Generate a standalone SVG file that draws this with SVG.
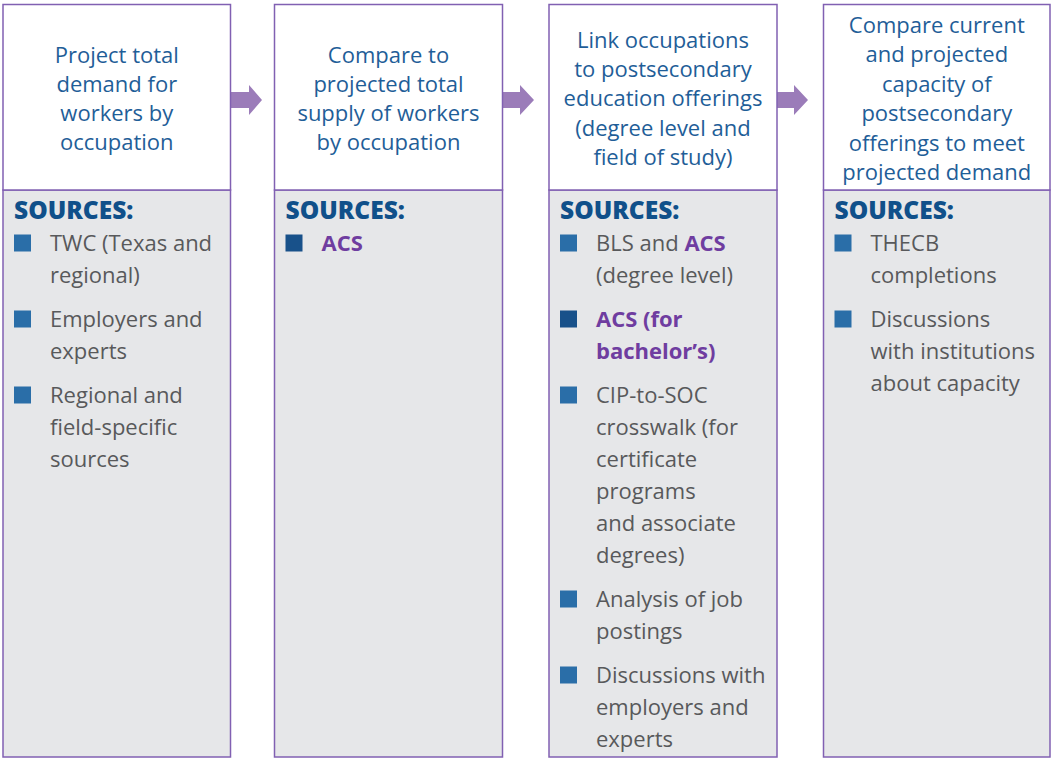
<svg xmlns="http://www.w3.org/2000/svg" width="1052" height="759" viewBox="0 0 1052 759">
<defs>
<style>
.top{fill:#ffffff;stroke:#8160b2;stroke-width:1.5}
.bot{fill:#e6e7e9;stroke:#8160b2;stroke-width:1.5}
.ttl{font-family:"Open Sans","Liberation Sans",sans-serif;font-size:22px;fill:#1f5e98;text-anchor:middle}
.src{font-family:"Open Sans","Liberation Sans",sans-serif;font-size:24.5px;font-weight:800;fill:#10508a}
.itm{font-family:"Open Sans","Liberation Sans",sans-serif;font-size:22px;fill:#58595b}
.acs{font-weight:700;fill:#6f3da0}
.bul{fill:#2a6ea8}
.bul2{fill:#18518a}
.arr{fill:#9b7cb9}
</style>
</defs>
<rect width="1052" height="759" fill="#ffffff"/>

<g id="connectors">
<polygon class="arr" points="231,92 249,92 249,85 262,100 249,115 249,108 231,108"/>
<polygon class="arr" points="503,92 520,92 520,85 534,100 520,115 520,108 503,108"/>
<polygon class="arr" points="777,92 794,92 794,85 808,100 794,115 794,108 777,108"/>
</g>

<g id="node1">
<rect class="bot" x="3" y="190" width="227.5" height="567"/>
<rect class="top" x="3" y="4.5" width="227.5" height="185.5"/>
<text class="ttl"><tspan x="116.8" y="63">Project total</tspan><tspan x="116.8" y="92">demand for</tspan><tspan x="116.8" y="121">workers by</tspan><tspan x="116.8" y="150">occupation</tspan></text>
<text class="src" x="14" y="218.5">SOURCES:</text>
<rect class="bul" x="14" y="234.5" width="17" height="17"/>
<text class="itm"><tspan x="50" y="251">TWC (Texas and</tspan><tspan x="50" y="283">regional)</tspan></text>
<rect class="bul" x="14" y="310.5" width="17" height="17"/>
<text class="itm"><tspan x="50" y="327">Employers and</tspan><tspan x="50" y="359">experts</tspan></text>
<rect class="bul" x="14" y="386.5" width="17" height="17"/>
<text class="itm"><tspan x="50" y="403">Regional and</tspan><tspan x="50" y="435">field-specific</tspan><tspan x="50" y="467">sources</tspan></text>
</g>

<g id="node2">
<rect class="bot" x="274.5" y="190" width="228" height="567"/>
<rect class="top" x="274.5" y="4.5" width="228" height="185.5"/>
<text class="ttl"><tspan x="388.5" y="63">Compare to</tspan><tspan x="388.5" y="92">projected total</tspan><tspan x="388.5" y="121">supply of workers</tspan><tspan x="388.5" y="150">by occupation</tspan></text>
<text class="src" x="285.5" y="218.5">SOURCES:</text>
<rect class="bul2" x="285.5" y="234.5" width="17" height="17"/>
<text class="itm acs" x="321.5" y="251">ACS</text>
</g>

<g id="node3">
<rect class="bot" x="549" y="190" width="228" height="567"/>
<rect class="top" x="549" y="4.5" width="228" height="185.5"/>
<text class="ttl"><tspan x="663" y="48">Link occupations</tspan><tspan x="663" y="77">to postsecondary</tspan><tspan x="663" y="106">education offerings</tspan><tspan x="663" y="136">(degree level and</tspan><tspan x="663" y="165">field of study)</tspan></text>
<text class="src" x="560" y="218.5">SOURCES:</text>
<rect class="bul" x="560" y="234.5" width="17" height="17"/>
<text class="itm"><tspan x="596" y="251">BLS and <tspan class="acs">ACS</tspan></tspan><tspan x="596" y="283">(degree level)</tspan></text>
<rect class="bul2" x="560" y="310.5" width="17" height="17"/>
<text class="itm acs"><tspan x="596" y="327">ACS (for</tspan><tspan x="596" y="359">bachelor’s)</tspan></text>
<rect class="bul" x="560" y="386.5" width="17" height="17"/>
<text class="itm"><tspan x="596" y="403">CIP-to-SOC</tspan><tspan x="596" y="435">crosswalk (for</tspan><tspan x="596" y="467">certificate</tspan><tspan x="596" y="499">programs</tspan><tspan x="596" y="531">and associate</tspan><tspan x="596" y="563">degrees)</tspan></text>
<rect class="bul" x="560" y="590.5" width="17" height="17"/>
<text class="itm"><tspan x="596" y="607">Analysis of job</tspan><tspan x="596" y="639">postings</tspan></text>
<rect class="bul" x="560" y="666.5" width="17" height="17"/>
<text class="itm"><tspan x="596" y="683">Discussions with</tspan><tspan x="596" y="715">employers and</tspan><tspan x="596" y="747">experts</tspan></text>
</g>

<g id="node4">
<rect class="bot" x="823.5" y="190" width="226.5" height="567"/>
<rect class="top" x="823.5" y="4.5" width="226.5" height="185.5"/>
<text class="ttl"><tspan x="936.8" y="33">Compare current</tspan><tspan x="936.8" y="62">and projected</tspan><tspan x="936.8" y="92">capacity of</tspan><tspan x="936.8" y="121">postsecondary</tspan><tspan x="936.8" y="151">offerings to meet</tspan><tspan x="936.8" y="180">projected demand</tspan></text>
<text class="src" x="834.5" y="218.5">SOURCES:</text>
<rect class="bul" x="834.5" y="234.5" width="17" height="17"/>
<text class="itm"><tspan x="870.5" y="251">THECB</tspan><tspan x="870.5" y="283">completions</tspan></text>
<rect class="bul" x="834.5" y="310.5" width="17" height="17"/>
<text class="itm"><tspan x="870.5" y="327">Discussions</tspan><tspan x="870.5" y="359">with institutions</tspan><tspan x="870.5" y="391">about capacity</tspan></text>
</g>
</svg>
